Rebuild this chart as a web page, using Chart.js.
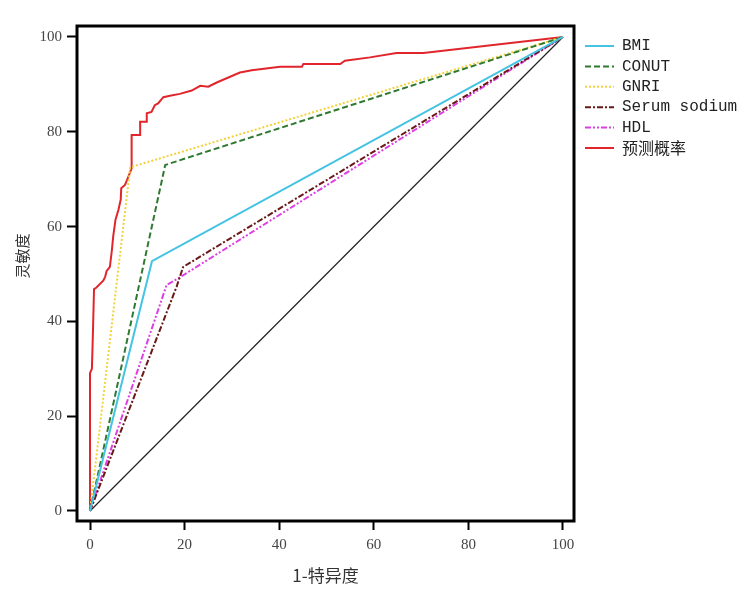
<!DOCTYPE html>
<html>
<head>
<meta charset="utf-8">
<script src="https://cdn.jsdelivr.net/npm/chart.js@4.4.1/dist/chart.umd.min.js"></script>
<style>
  html, body { margin: 0; padding: 0; background: #fff; }
  #wrap { width: 744px; height: 598px; }
</style>
</head>
<body>
<div id="wrap"><canvas id="roc" width="744" height="598"></canvas></div>
<script>
/* ---------- data ---------- */
const xTicks = [0, 20, 40, 60, 80, 100];
const yTicks = [0, 20, 40, 60, 80, 100];

const seriesNames = ["BMI", "CONUT", "GNRI", "Serum sodium", "HDL", "预测概率"];

const bmiX = [0, 13.1, 100];
const bmiY = [0, 52.7, 100];

const conutX = [0, 15.9, 100];
const conutY = [0, 73.0, 100];

const gnriX = [0, 8.5, 100];
const gnriY = [0, 72.5, 100];

const sodiumX = [0, 18.3, 19.7, 100];
const sodiumY = [0, 47.3, 51.5, 100];

const hdlX = [0, 16.2, 19.0, 100];
const hdlY = [0, 47.7, 49.3, 100];

const probX = [0, 0, 0.4, 0.6, 0.85, 1.3, 2.8, 3.2, 3.5, 4.2, 4.6, 4.9, 5.4, 6.0, 6.5, 6.6, 7.4, 8.1, 8.8,
  8.8, 10.6, 10.6, 12.0, 12.0, 13.0, 13.7, 14.4, 15.5, 16.9, 19.0, 21.5, 23.3, 25.0, 26.8, 31.7, 34.2,
  40.2, 44.8, 45.1, 52.9, 53.9, 59.2, 64.8, 70.5, 100];
const probY = [0, 29.1, 30.0, 36.9, 46.8, 47.1, 48.6, 49.4, 50.6, 51.5, 54.8, 57.9, 61.5, 63.5, 65.7, 68.1, 68.8, 70.5, 72.3,
  79.3, 79.3, 82.1, 82.1, 83.9, 84.2, 85.6, 86.0, 87.3, 87.6, 88.0, 88.7, 89.7, 89.5, 90.4, 92.5, 93.0,
  93.7, 93.7, 94.3, 94.3, 95.0, 95.7, 96.6, 96.6, 100];

const refX = [0, 100];
const refY = [0, 100];

/* ---------- helpers ---------- */
function pts(xs, ys) {
  return xs.map((x, i) => ({ x: x, y: ys[i] }));
}

function line(label, xs, ys, color, dash, width) {
  return {
    label: label,
    data: pts(xs, ys),
    showLine: true,
    borderColor: color,
    backgroundColor: color,
    borderWidth: width || 2,
    borderDash: dash,
    pointRadius: 0,
    tension: 0,
    fill: false
  };
}

const datasets = [
  line(seriesNames[0], bmiX, bmiY, "#45c3e3", []),
  line(seriesNames[1], conutX, conutY, "#2f7a30", [6, 3]),
  line(seriesNames[2], gnriX, gnriY, "#f2d23c", [2, 2]),
  line(seriesNames[3], sodiumX, sodiumY, "#6a1818", [6, 2, 2, 2]),
  line(seriesNames[4], hdlX, hdlY, "#de3fe3", [6, 2, 2, 2, 2, 2]),
  line(seriesNames[5], probX, probY, "#e0262c", []),
  line("ref", refX, refY, "#222222", [], 1.2)
];

/* ---------- frame, legend, y title ---------- */
const decor = {
  id: "decor",
  afterDraw(chart) {
    const { ctx, chartArea: a } = chart;
    ctx.save();
    ctx.strokeStyle = "#000";
    ctx.lineWidth = 3;
    ctx.strokeRect(a.left, a.top, a.right - a.left, a.bottom - a.top);

    // legend
    const y0 = 46, step = 20.4;
    datasets.slice(0, 6).forEach((ds, i) => {
      const y = y0 + i * step;
      ctx.strokeStyle = ds.borderColor;
      ctx.lineWidth = 2;
      ctx.setLineDash(ds.borderDash);
      ctx.beginPath();
      ctx.moveTo(585, y);
      ctx.lineTo(614, y);
      ctx.stroke();
      ctx.setLineDash([]);
      ctx.fillStyle = "#222";
      ctx.textBaseline = "middle";
      ctx.textAlign = "left";
      ctx.font = i === 5 ? "16px 'Noto Sans CJK SC'" : "16px 'Liberation Mono'";
      ctx.fillText(ds.label, 622, y);
    });

    // y axis title
    ctx.translate(22, 256);
    ctx.rotate(-Math.PI / 2);
    ctx.fillStyle = "#333";
    ctx.font = "15px 'Noto Sans CJK SC'";
    ctx.textAlign = "center";
    ctx.textBaseline = "middle";
    ctx.fillText("灵敏度", 0, 0);
    ctx.restore();
  }
};

/* ---------- chart ---------- */
new Chart(document.getElementById("roc"), {
  type: "scatter",
  data: { datasets: datasets },
  options: {
    responsive: false,
    animation: false,
    layout: { padding: { top: 26, right: 170, left: 0, bottom: 0 } },
    plugins: {
      legend: { display: false },
      tooltip: { enabled: false }
    },
    scales: {
      x: {
        type: "linear",
        min: -2.75,
        max: 102.33,
        afterBuildTicks: s => { s.ticks = xTicks.map(v => ({ value: v })); },
        afterFit: s => { s.height = 77; },
        grid: { drawOnChartArea: false, drawTicks: true, tickLength: 9, tickColor: "#000", tickWidth: 2 },
        border: { display: false },
        ticks: { padding: 6, color: "#444", font: { family: "'Liberation Serif'", size: 15 } },
        title: {
          display: true,
          text: "1-特异度",
          color: "#333",
          font: { family: "'Noto Sans CJK SC'", size: 17 },
          padding: { top: 0, bottom: 12 }
        }
      },
      y: {
        type: "linear",
        min: -2.11,
        max: 102.32,
        afterBuildTicks: s => { s.ticks = yTicks.map(v => ({ value: v })); },
        afterFit: s => { s.width = 77; },
        grid: { drawOnChartArea: false, drawTicks: true, tickLength: 10, tickColor: "#000", tickWidth: 2 },
        border: { display: false },
        ticks: { padding: 5, color: "#444", font: { family: "'Liberation Serif'", size: 15 } }
      }
    }
  },
  plugins: [decor]
});
</script>
</body>
</html>
